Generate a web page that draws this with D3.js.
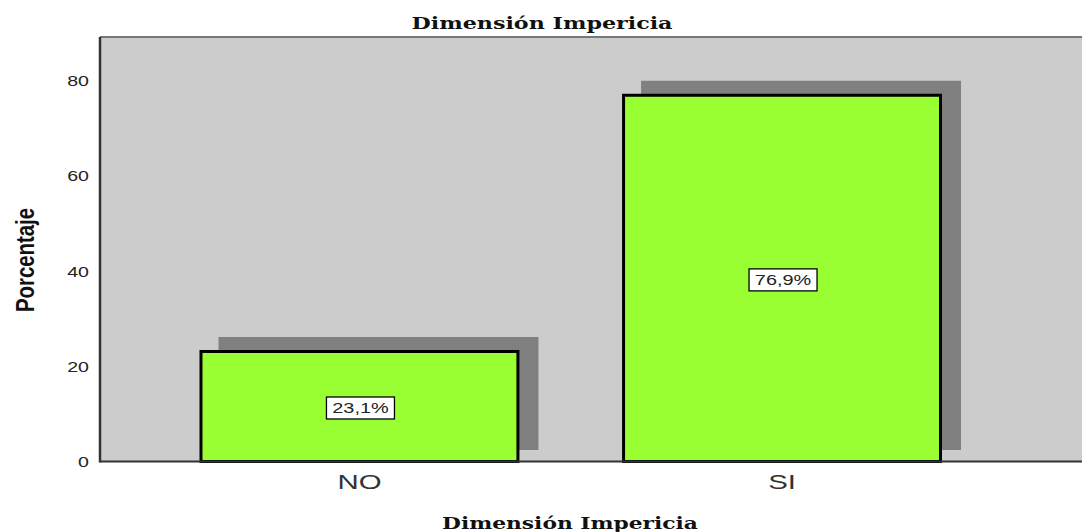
<!DOCTYPE html>
<html><head><meta charset="utf-8">
<script src="https://cdn.jsdelivr.net/npm/d3@7"></script>
<style>html,body{margin:0;padding:0;background:#fff;}svg{display:block;}</style>
</head><body>
<script>
const categories = ["NO", "SI"];
const values = [23.1, 76.9];
const valueLabels = ["23,1%", "76,9%"];
const yTicks = [0, 20, 40, 60, 80];
const chartTitle = "Dimensión Impericia";
const xTitle = "Dimensión Impericia";
const yTitle = "Porcentaje";

const W = 1082, H = 532;
const svg = d3.select("body").append("svg").attr("width", W).attr("height", H);

const plotLeft = 100, plotRight = 1082, plotTop = 37;
const x = d3.scaleBand().domain(categories).range([100, 1041.5]).paddingInner(0.25).paddingOuter(0.239);
const y = d3.scaleLinear().domain([0, 80]).range([461.5, 80.5]);

// plot background
svg.append("rect").attr("x", plotLeft).attr("y", plotTop)
  .attr("width", plotRight - plotLeft).attr("height", y(0) - plotTop).attr("fill", "#cccccc");
// top border
svg.append("line").attr("x1", plotLeft).attr("x2", plotRight).attr("y1", plotTop).attr("y2", plotTop)
  .attr("stroke", "#777").attr("stroke-width", 2);

const data = categories.map((c, i) => ({c, v: values[i], label: valueLabels[i]}));

// shadows
svg.selectAll("rect.shadow").data(data).enter().append("rect").attr("class", "shadow")
  .attr("x", d => x(d.c) - 1.5 + 19)
  .attr("y", d => y(d.v) - 1.5 - 13)
  .attr("width", x.bandwidth() + 3)
  .attr("height", d => y(0) - y(d.v) + 3)
  .attr("fill", "#808080");

// bars
svg.selectAll("rect.bar").data(data).enter().append("rect").attr("class", "bar")
  .attr("x", d => x(d.c)).attr("y", d => y(d.v))
  .attr("width", x.bandwidth()).attr("height", d => y(0) - y(d.v))
  .attr("fill", "#99ff33").attr("stroke", "#000").attr("stroke-width", 3);

// axes lines
svg.append("line").attr("x1", plotLeft).attr("x2", plotLeft).attr("y1", plotTop).attr("y2", y(0) + 1)
  .attr("stroke", "#333").attr("stroke-width", 2.5);
svg.append("line").attr("x1", plotLeft).attr("x2", plotRight).attr("y1", y(0)).attr("y2", y(0))
  .attr("stroke", "#333").attr("stroke-width", 2);

// y tick labels
const yAxis = d3.axisLeft(y).tickValues(yTicks).tickSize(0).tickPadding(0).tickFormat(d3.format("d"));
const ya = svg.append("g").attr("transform", `translate(89,0)`).call(yAxis);
ya.select(".domain").remove();
ya.selectAll("text").attr("x", 0).attr("dy", "0.36em")
  .attr("font-family", "Liberation Sans, Arial, sans-serif").attr("font-size", 14).attr("fill", "#222")
  .attr("transform", "scale(1.4,1)");

// x category labels
const xAxis = d3.axisBottom(x).tickSize(0).tickPadding(0);
const xa = svg.append("g").attr("transform", `translate(0,489)`).call(xAxis);
xa.select(".domain").remove();
xa.selectAll(".tick text").attr("y", 0).attr("dy", 0)
  .attr("font-family", "Liberation Sans, Arial, sans-serif").attr("font-size", 21).attr("fill", "#333")
  .attr("transform", "scale(1.4,1)");

// value labels
const lg = svg.selectAll("g.vl").data(data).enter().append("g").attr("class", "vl")
  .attr("transform", d => `translate(${x(d.c) + x.bandwidth() / 2 + 1},${y(d.v / 2) + 1.5})`);
lg.append("rect").attr("x", -34).attr("y", -11).attr("width", 68).attr("height", 22)
  .attr("fill", "#fff").attr("stroke", "#000").attr("stroke-width", 1.3);
lg.append("text").attr("text-anchor", "middle").attr("dy", "0.36em")
  .attr("font-family", "Liberation Sans, Arial, sans-serif").attr("font-size", 14).attr("fill", "#222")
  .attr("transform", "scale(1.42,1)").text(d => d.label);

// titles
svg.append("text").attr("x", 542).attr("y", 29).attr("text-anchor", "middle")
  .attr("font-family", "DejaVu Serif, serif").attr("font-weight", "bold").attr("font-size", 17)
  .attr("textLength", 261).attr("lengthAdjust", "spacingAndGlyphs").attr("fill", "#111").text(chartTitle);
svg.append("text").attr("x", 570).attr("y", 529).attr("text-anchor", "middle")
  .attr("font-family", "DejaVu Serif, serif").attr("font-weight", "bold").attr("font-size", 17)
  .attr("textLength", 256).attr("lengthAdjust", "spacingAndGlyphs").attr("fill", "#111").text(xTitle);
svg.append("text").attr("transform", "translate(34,260) rotate(-90)").attr("text-anchor", "middle")
  .attr("font-family", "Liberation Sans Narrow, Arial Narrow, Liberation Sans, sans-serif")
  .attr("font-weight", "bold").attr("font-size", 25)
  .attr("textLength", 104).attr("lengthAdjust", "spacingAndGlyphs").attr("fill", "#111").text(yTitle);
</script>
</body></html>
